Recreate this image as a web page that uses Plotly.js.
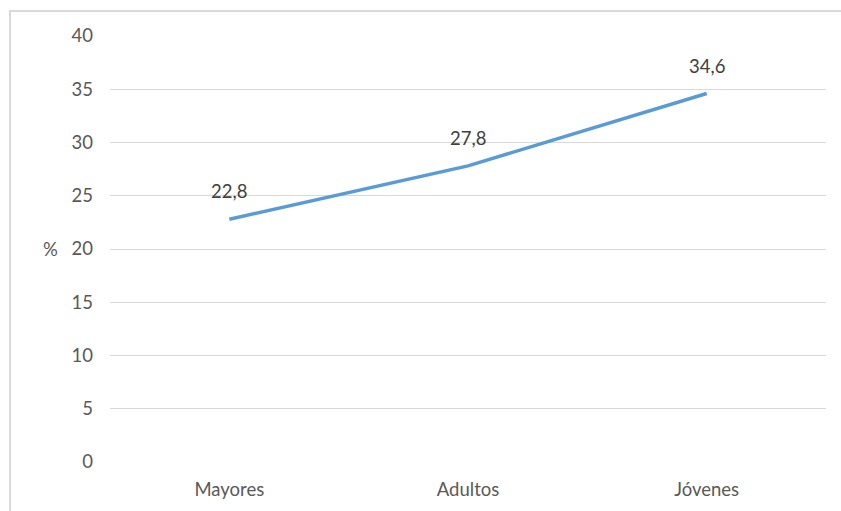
<!DOCTYPE html>
<html>
<head>
<meta charset="utf-8">
<script src="https://cdn.plot.ly/plotly-3.0.1.min.js"></script>
<style>
html,body{margin:0;padding:0;overflow:hidden;background:#fff;}
#wrap{position:relative;width:841px;height:511px;overflow:hidden;}
#chart{position:absolute;left:0;top:0;width:841px;height:511px;}
#frame{position:absolute;left:9px;top:10px;width:900px;height:600px;border:2px solid #d9d9d9;pointer-events:none;}
</style>
</head>
<body>
<div id="wrap"><div id="chart"></div><div id="frame"></div></div>
<script>
const categories = ['Mayores', 'Adultos', 'Jóvenes'];
const values = [22.8, 27.8, 34.6];
const yTicks = [0, 5, 10, 15, 20, 25, 30, 35, 40];

const FONT = 'Lato, "Open Sans", sans-serif';

const trace = {
  x: categories,
  y: values,
  type: 'scatter',
  mode: 'lines',
  line: {color: '#5B9BD5', width: 3.5},
  hoverinfo: 'none'
};

const labelAnnotations = categories.map((c, i) => ({
  x: c, y: values[i], xref: 'x', yref: 'y',
  text: values[i].toFixed(1).replace('.', ','),
  showarrow: false, yanchor: 'middle', xanchor: 'center', yshift: 28,
  font: {family: FONT, size: 18.5, color: '#404040'}
}));

const layout = {
  width: 841, height: 511,
  margin: {l: 110, r: 15, t: 36, b: 49},
  paper_bgcolor: 'rgba(0,0,0,0)',
  plot_bgcolor: '#fff',
  showlegend: false,
  font: {family: FONT, size: 18, color: '#595959'},
  xaxis: {
    type: 'category',
    range: [-0.5, 2.5],
    showgrid: false, zeroline: false, showline: false,
    ticks: '', ticklabelstandoff: 14,
    tickfont: {size: 18.5, color: '#595959'}
  },
  yaxis: {
    range: [0, 40],
    tickvals: yTicks,
    showgrid: true, gridcolor: '#d9d9d9', gridwidth: 1,
    zeroline: false, showline: false,
    ticks: '', ticklabelstandoff: 16,
    tickfont: {size: 18.5, color: '#595959'}
  },
  annotations: [{
    text: '%', xref: 'paper', yref: 'paper', x: 0, y: 0.5,
    xanchor: 'right', yanchor: 'middle', xshift: -50, showarrow: false,
    font: {size: 18.5, color: '#595959'}
  }].concat(labelAnnotations)
};

Plotly.newPlot('chart', [trace], layout, {displayModeBar: false, staticPlot: true});
</script>
</body>
</html>
